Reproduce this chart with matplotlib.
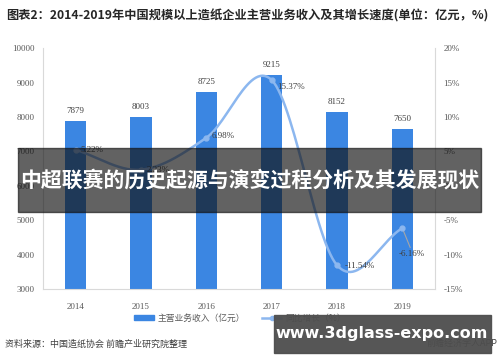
import numpy as np
import matplotlib
matplotlib.use("Agg")
import matplotlib.pyplot as plt
from matplotlib.lines import Line2D
from matplotlib.patches import Patch, Rectangle

plt.rcParams['font.family'] = ['Noto Sans CJK SC', 'DejaVu Sans']

years = ['2014', '2015', '2016', '2017', '2018', '2019']
revenue = [7879, 8003, 8725, 9215, 8152, 7650]
growth = [5.22, 2.33, 6.98, 15.37, -11.54, -6.16]
left_ticks = [3000, 4000, 5000, 6000, 7000, 8000, 9000, 10000]
right_ticks = [-15, -10, -5, 0, 5, 10, 15, 20]

bar_c = '#3b86e2'
line_c = '#8cb7ef'
txt_c = '#404040'
tick_c = '#595959'
serif = 'Liberation Serif'


def catmull_rom(xs, ys, n=30):
    # smooth line like excel's "smoothed line"
    px = np.concatenate([[2 * xs[0] - xs[1]], xs, [2 * xs[-1] - xs[-2]]])
    py = np.concatenate([[2 * ys[0] - ys[1]], ys, [2 * ys[-1] - ys[-2]]])
    outx, outy = [], []
    for i in range(1, len(px) - 2):
        t = np.linspace(0, 1, n)
        for arr, out in ((px, outx), (py, outy)):
            p0, p1, p2, p3 = arr[i - 1], arr[i], arr[i + 1], arr[i + 2]
            out.extend(0.5 * ((2 * p1) + (-p0 + p2) * t +
                              (2 * p0 - 5 * p1 + 4 * p2 - p3) * t ** 2 +
                              (-p0 + 3 * p1 - 3 * p2 + p3) * t ** 3))
    return np.array(outx), np.array(outy)


fig = plt.figure(figsize=(5, 3.62), dpi=100)
ax = fig.add_axes([0.086, 0.2017, 0.784, 0.6653])
ax2 = ax.twinx()

x = np.arange(len(years))
ax.bar(x, np.array(revenue) - 3000, bottom=3000, width=0.33, color=bar_c, zorder=2)
for xi, v in zip(x, revenue):
    ax.text(xi, v + 180, str(v), ha='center', va='bottom', fontsize=6.5,
            family=serif, color=txt_c)

ax.set_xlim(-0.5, 5.5)
ax.set_ylim(3000, 10000)
ax.set_yticks(left_ticks)
ax.set_yticklabels([str(t) for t in left_ticks], family=serif, fontsize=6.5, color=tick_c)
ax.set_xticks(x)
ax.set_xticklabels(years, family=serif, fontsize=6.5, color=tick_c)
ax.tick_params(length=0, pad=10)
ax.tick_params(axis='y', pad=6)

ax2.set_ylim(-15, 20)
ax2.set_yticks(right_ticks)
ax2.set_yticklabels(['%d%%' % t for t in right_ticks], family=serif, fontsize=6.5, color=tick_c)
ax2.tick_params(length=0, pad=6)

for a in (ax, ax2):
    for s in a.spines.values():
        s.set_visible(False)
ax.spines['left'].set_visible(True)
ax.spines['bottom'].set_visible(True)
ax2.spines['right'].set_visible(True)
for s in (ax.spines['left'], ax.spines['bottom'], ax2.spines['right']):
    s.set_color('#d9d9d9')
    s.set_linewidth(0.8)

sx, sy = catmull_rom(x.astype(float), np.array(growth))
ax2.plot(sx, sy, color=line_c, lw=1.8, zorder=3)
ax2.plot(x, growth, 'o', color=line_c, ms=3.5, zorder=4)

offsets = [(0.08, 0.0), (0.08, 0.0), (0.08, 0.3), (0.08, -1.0), (0.12, -0.1), None]
for xi, g, off in zip(x, growth, offsets):
    if off is None:
        continue
    ax2.text(xi + off[0], g + off[1], '%.2f%%' % g, ha='left', va='center',
             fontsize=6.5, family=serif, color=txt_c)
# 2019 label with leader line
ax2.plot([x[5], x[5] + 0.12], [growth[5], growth[5] - 2.8], color='#a6a6a6', lw=0.8)
ax2.text(x[5] + 0.15, growth[5] - 3.7, '%.2f%%' % growth[5], ha='center', va='center',
         fontsize=6.5, family=serif, color=txt_c)

fig.text(0.012, 0.955, '图表2：2014-2019年中国规模以上造纸企业主营业务收入及其增长速度(单位：亿元，%)',
         fontsize=8.8, fontweight='bold', color='#262626', va='center', ha='left')

handles = [Patch(color=bar_c), Line2D([0], [0], color=line_c, lw=1.8, marker='o', ms=3)]
fig.legend(handles, ['主营业务收入（亿元）', '同比增长（%）'], loc='center',
           bbox_to_anchor=(0.48, 0.121), ncol=2, frameon=False, fontsize=6.3,
           labelcolor='#595959', handlelength=2.2, handleheight=0.5, columnspacing=2.0,
           handletextpad=0.4)

fig.text(0.01, 0.05, '资料来源：中国造纸协会 前瞻产业研究院整理', fontsize=6.5,
         color='#404040', va='center', ha='left')
fig.text(0.995, 0.05, '前瞻经济学人APP', fontsize=6.5, color='#404040',
         va='center', ha='right')

# overlay banner
fig.patches.append(Rectangle((0.036, 0.414), 0.926, 0.177, transform=fig.transFigure,
                             color='#111111', alpha=0.66, zorder=10))
fig.text(0.5, 0.503, '中超联赛的历史起源与演变过程分析及其发展现状', fontsize=15,
         fontweight='bold', color='white', ha='center', va='center', zorder=11)

fig.patches.append(Rectangle((0.548, 0.025), 0.434, 0.105, transform=fig.transFigure,
                             color='#4d4d4d', alpha=0.95, zorder=10))
fig.text(0.763, 0.08, 'www.3dglass-expo.com', fontsize=11.5, fontweight='bold',
         color='white', ha='center', va='center', zorder=11, family='DejaVu Sans')

fig.savefig('out.png', dpi=100)
